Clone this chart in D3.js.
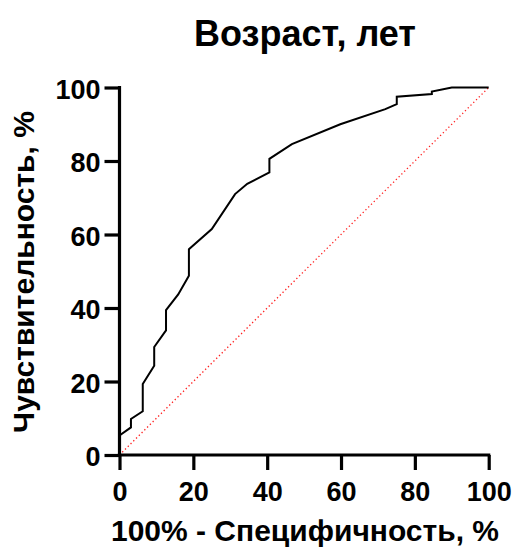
<!DOCTYPE html>
<html><head><meta charset="utf-8">
<script src="https://cdn.jsdelivr.net/npm/d3@7"></script>
<style>body{margin:0;background:#fff;} text{font-family:Arial,"Liberation Sans",sans-serif;font-weight:bold;fill:#000;}</style>
</head><body>
<svg id="c" width="515" height="549"></svg>
<script>
const title = "Возраст, лет";
const xLabel = "100% - Специфичность, %";
const yLabel = "Чувствительность, %";
const xTicks = [0, 20, 40, 60, 80, 100];
const yTicks = [0, 20, 40, 60, 80, 100];
// ROC curve vertices: 100% - specificity, sensitivity
const fpr = [0, 0, 3.1, 3.1, 6.3, 6.3, 9.4, 9.4, 12.6, 12.6, 15.9, 18.8, 18.8, 25.0, 31.3, 34.6, 40.6, 40.6, 46.7, 59.8, 72.0, 75.1, 75.1, 84.6, 84.6, 90.0, 100];
const tpr = [0, 5.3, 7.5, 9.8, 11.9, 19.3, 24.3, 29.4, 33.9, 39.4, 43.7, 48.8, 56.0, 61.5, 71.0, 73.8, 76.9, 80.6, 84.6, 90.0, 94.1, 95.5, 97.5, 98.2, 98.9, 100, 100];
const refX = [0, 100];
const refY = [0, 100];

const svg = d3.select("#c");
const x = d3.scaleLinear().domain([0, 100]).range([119.5, 488.7]);
const y = d3.scaleLinear().domain([0, 100]).range([455, 87.5]);

// reference diagonal
svg.append("path")
  .datum(refX.map((v, i) => [v, refY[i]]))
  .attr("d", d3.line().x(d => x(d[0])).y(d => y(d[1])))
  .attr("fill", "none").attr("stroke", "#ff2020").attr("stroke-width", 1.3)
  .attr("stroke-dasharray", "1.3,2.6");

// ROC curve
svg.append("path")
  .datum(fpr.map((v, i) => [v, tpr[i]]))
  .attr("d", d3.line().x(d => x(d[0])).y(d => y(d[1])))
  .attr("fill", "none").attr("stroke", "#000").attr("stroke-width", 2)
  .attr("stroke-linejoin", "miter");

const xa = svg.append("g").attr("transform", `translate(0,${y(0)})`)
  .call(d3.axisBottom(x).tickValues(xTicks).tickSize(15).tickPadding(12).tickSizeOuter(0));
const ya = svg.append("g").attr("transform", `translate(${x(0)},0)`)
  .call(d3.axisLeft(y).tickValues(yTicks).tickSize(15).tickPadding(4).tickSizeOuter(0));
[xa, ya].forEach(a => {
  a.select(".domain").attr("stroke", "#000").attr("stroke-width", 3.2);
  a.selectAll(".tick line").attr("stroke", "#000").attr("stroke-width", 3.2);
  a.selectAll(".tick text").style("font-size", "27px").style("font-family", "Arial, 'Liberation Sans', sans-serif").style("font-weight", "bold");
});
ya.selectAll(".tick text").attr("dy", "0.40em");
// extend domains to cover tick line caps
xa.select(".domain").attr("d", `M${x(0)-1.6},0H${x(100)+1.6}`);
ya.select(".domain").attr("d", `M0,${y(0)+1.6}V${y(100)-1.6}`);

svg.append("text").attr("x", 305).attr("y", 46).attr("text-anchor", "middle")
  .style("font-size", "36px").text(title);
svg.append("text").attr("x", 305).attr("y", 541).attr("text-anchor", "middle")
  .style("font-size", "30px").text(xLabel);
svg.append("text").attr("transform", "translate(34,272) rotate(-90)").attr("text-anchor", "middle")
  .style("font-size", "30px").text(yLabel);
</script>
</body></html>
